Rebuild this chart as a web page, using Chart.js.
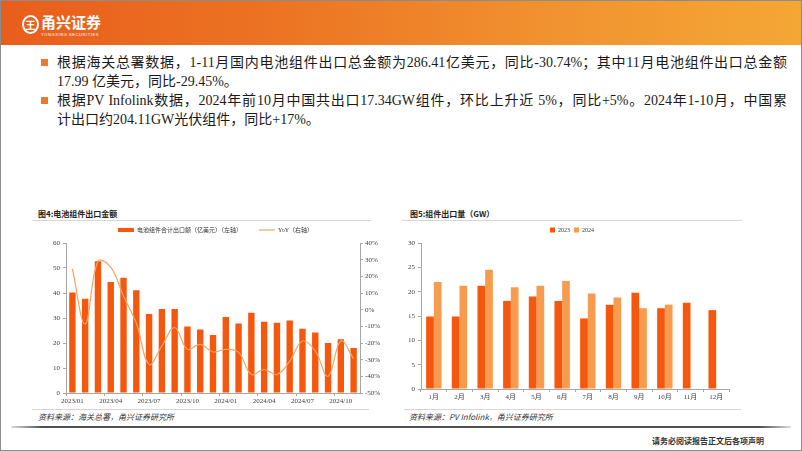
<!DOCTYPE html>
<html lang="zh">
<head>
<meta charset="UTF-8">
<title>电池组件出口</title>
<script src="https://cdn.jsdelivr.net/npm/chart.js@4"></script>
<style>
  body { margin: 0; background: #fff; }
  #page { position: relative; width: 800px; height: 449px; border: 1px solid #8c8c8c; overflow: hidden;
          font-family: "Liberation Serif", "Noto Sans CJK SC", serif; color: #1a1a1a; }
  #header { position: absolute; left: 0; top: 0; width: 800px; height: 44px;
            background: linear-gradient(90deg, #E85E1C 0%, #EC7423 35%, #F19330 70%, #F4A735 100%); }
  #logoIcon { position: absolute; left: 21px; top: 14px; width: 13px; height: 15px; border: 2px solid #fff;
              border-radius: 50%; color: #fff; font: bold 10px/15px "Noto Sans CJK SC"; text-align: center; }
  #logoText { position: absolute; left: 40px; top: 12px; color: #fff; font: bold 15px/18px "Noto Sans CJK SC"; }
  #logoSub { position: absolute; left: 40px; top: 31px; color: #fff; font: 4px/5px "Liberation Sans"; letter-spacing: 0.6px; }
  .bullet { position: absolute; left: 40px; width: 7px; height: 7px; background: #EC7A2E; }
  .line { position: absolute; left: 56px; width: 730px; font-size: 14px; line-height: 19px; height: 19px; white-space: nowrap; }
  .full { text-align: justify; text-align-last: justify; }
  .title { position: absolute; font: bold 8px/10px "Noto Sans CJK SC"; color: #222; }
  .rule { position: absolute; height: 1px; background: #d6d6d6; }
  .src { position: absolute; font: italic 8px/10px "Noto Sans CJK SC"; color: #333; }
  #thick { position: absolute; left: 10px; top: 425px; width: 780px; height: 2px;
           background: linear-gradient(90deg, rgba(80,80,80,0.2), #505050 4%, #505050 96%, rgba(80,80,80,0.2)); border-radius: 1px; }
  #foot { position: absolute; left: 651px; top: 435px; font: bold 8px/10px "Noto Sans CJK SC"; color: #333; }
  canvas { position: absolute; }
</style>
</head>
<body>
<div id="page">
  <div id="header">
    <div id="logoIcon">王</div>
    <div id="logoText">甬兴证券</div>
    <div id="logoSub">YONGXING SECURITIES</div>
  </div>

  <div class="bullet" style="top:58px"></div>
  <div class="line full" style="top:52px">根据海关总署数据，1-11月国内电池组件出口总金额为286.41亿美元，同比-30.74%；其中11月电池组件出口总金额</div>
  <div class="line" style="top:71px">17.99 亿美元，同比-29.45%。</div>
  <div class="bullet" style="top:96px"></div>
  <div class="line full" style="top:90px">根据PV Infolink数据，2024年前10月中国共出口17.34GW组件，环比上升近 5%，同比+5%。2024年1-10月，中国累</div>
  <div class="line" style="top:109px">计出口约204.11GW光伏组件，同比+17%。</div>

  <div class="title" style="left:37px; top:208px">图4:电池组件出口金额</div>
  <div class="rule" style="left:31px; top:219px; width:339px"></div>
  <div class="title" style="left:409px; top:208px">图5:组件出口量（GW）</div>
  <div class="rule" style="left:401px; top:219px; width:340px"></div>

  <canvas id="valueChart" width="369" height="198" style="left:30px; top:208px"></canvas>
  <canvas id="volumeChart" width="344" height="181" style="left:399px; top:221px"></canvas>

  <div class="rule" style="left:31px; top:408px; width:337px"></div>
  <div class="src" style="left:37px; top:411px">资料来源：海关总署，甬兴证券研究所</div>
  <div class="rule" style="left:403px; top:408px; width:337px"></div>
  <div class="src" style="left:408px; top:411px">资料来源：PV Infolink，甬兴证券研究所</div>

  <div id="thick"></div>
  <div id="foot">请务必阅读报告正文后各项声明</div>
</div>

<script>
// 图4 data
const months = ['2023/01','2023/02','2023/03','2023/04','2023/05','2023/06','2023/07','2023/08','2023/09','2023/10','2023/11','2023/12',
                '2024/01','2024/02','2024/03','2024/04','2024/05','2024/06','2024/07','2024/08','2024/09','2024/10','2024/11']
const exportValue = [40.2, 37.7, 52.7, 44.4, 46.1, 41.1, 31.6, 33.6, 33.6, 26.6, 25.4, 23.2,
                     30.4, 27.8, 32.1, 28.5, 28.1, 29.0, 25.7, 24.2, 20.0, 21.5, 17.99]
const exportYoY = [24.4, -8.5, 29.0, 25.5, 8.0, -8.0, -32.8, -21.8, -10.7, -23.8, -20.8, -25.4,
                   -23.8, -25.6, -38.9, -35.9, -38.9, -31.0, -18.8, -24.8, -40.0, -18.8, -29.45]

// 图5 data
const monthNames = ['1月','2月','3月','4月','5月','6月','7月','8月','9月','10月','11月','12月']
const volume2023 = [14.9, 14.9, 21.2, 18.1, 19.0, 18.1, 14.5, 17.3, 19.8, 16.6, 17.7, 16.2]
const volume2024 = [22.0, 21.2, 24.5, 20.9, 21.2, 22.2, 19.6, 18.8, 16.6, 17.34, null, null]

const barRed = '#F5570C'
const barLight = '#F79C4E'
const lineOrange = '#F6A461'
const axisGray = '#A6A6A6'
const tickFont = {family: "'Liberation Serif', 'Noto Sans CJK SC'", size: 7}
const legendFont = {family: "'Liberation Serif', 'Noto Sans CJK SC'", size: 6}

new Chart(document.getElementById('valueChart'), {
  type: 'bar',
  data: {
    labels: months,
    datasets: [
      {
        label: '电池组件合计出口额（亿美元）（左轴）',
        data: exportValue,
        backgroundColor: barRed,
        yAxisID: 'y',
        barPercentage: 0.5,
        categoryPercentage: 1,
        order: 2
      },
      {
        type: 'line',
        label: 'YoY（右轴）',
        data: exportYoY,
        borderColor: lineOrange,
        backgroundColor: lineOrange,
        borderWidth: 1.2,
        pointRadius: 0,
        tension: 0.4,
        yAxisID: 'y1',
        order: 1
      }
    ]
  },
  options: {
    responsive: false,
    animation: false,
    layout: {padding: {top: 1}},
    plugins: {
      tooltip: {enabled: false},
      legend: {
        labels: {
          font: legendFont,
          color: '#333',
          padding: 17,
          usePointStyle: true,
          pointStyleWidth: 16,
          boxHeight: 4,
          sort: (a, b) => a.datasetIndex - b.datasetIndex,
          generateLabels: chart => Chart.defaults.plugins.legend.labels.generateLabels(chart).map(item => {
            const isBar = item.datasetIndex === 0
            item.pointStyle = isBar ? 'rect' : 'line'
            item.lineWidth = isBar ? 0 : 1.2
            return item
          })
        }
      }
    },
    scales: {
      x: {
        grid: {drawOnChartArea: false, tickLength: 3, color: c => c.index % 3 === 0 ? axisGray : 'transparent'},
        border: {color: axisGray},
        ticks: {
          autoSkip: false, maxRotation: 0, font: tickFont, color: '#404040', padding: 1,
          callback: function (v, i) { return i % 3 === 0 ? this.getLabelForValue(v) : '' }
        },
        afterFit: s => { s.height = 14 }
      },
      y: {
        position: 'left', min: 0, max: 60,
        grid: {drawOnChartArea: false, tickLength: 3, color: axisGray},
        border: {color: axisGray},
        ticks: {stepSize: 10, font: tickFont, color: '#404040', padding: 3},
        afterFit: s => { s.width = 35 }
      },
      y1: {
        position: 'right', min: -50, max: 40,
        grid: {drawOnChartArea: false, tickLength: 3, color: axisGray},
        border: {color: axisGray},
        ticks: {stepSize: 10, font: tickFont, color: '#404040', padding: 2, callback: v => v + '%'},
        afterFit: s => { s.width = 40 }
      }
    }
  }
})

new Chart(document.getElementById('volumeChart'), {
  type: 'bar',
  data: {
    labels: monthNames,
    datasets: [
      {label: '2023', data: volume2023, backgroundColor: barRed, categoryPercentage: 0.6, barPercentage: 1},
      {label: '2024', data: volume2024, backgroundColor: barLight, categoryPercentage: 0.6, barPercentage: 1}
    ]
  },
  options: {
    responsive: false,
    animation: false,
    layout: {padding: {top: 1}},
    plugins: {
      tooltip: {enabled: false},
      legend: {
        labels: {font: legendFont, color: '#333', padding: 4, boxWidth: 5, boxHeight: 5}
      }
    },
    scales: {
      x: {
        grid: {drawOnChartArea: false, tickLength: 3, color: axisGray},
        border: {color: axisGray},
        ticks: {font: tickFont, color: '#404040', padding: 1, maxRotation: 0, autoSkip: false},
        afterFit: s => { s.height = 14 }
      },
      y: {
        min: 0, max: 30,
        grid: {drawOnChartArea: false, tickLength: 3, color: axisGray},
        border: {color: axisGray},
        ticks: {stepSize: 5, font: tickFont, color: '#404040', padding: 3},
        afterFit: s => { s.width = 21 }
      },
      spacer: {
        type: 'linear', position: 'right', display: true,
        ticks: {display: false}, grid: {display: false}, border: {display: false},
        afterFit: s => { s.width = 15 }
      }
    }
  }
})
</script>
</body>
</html>
